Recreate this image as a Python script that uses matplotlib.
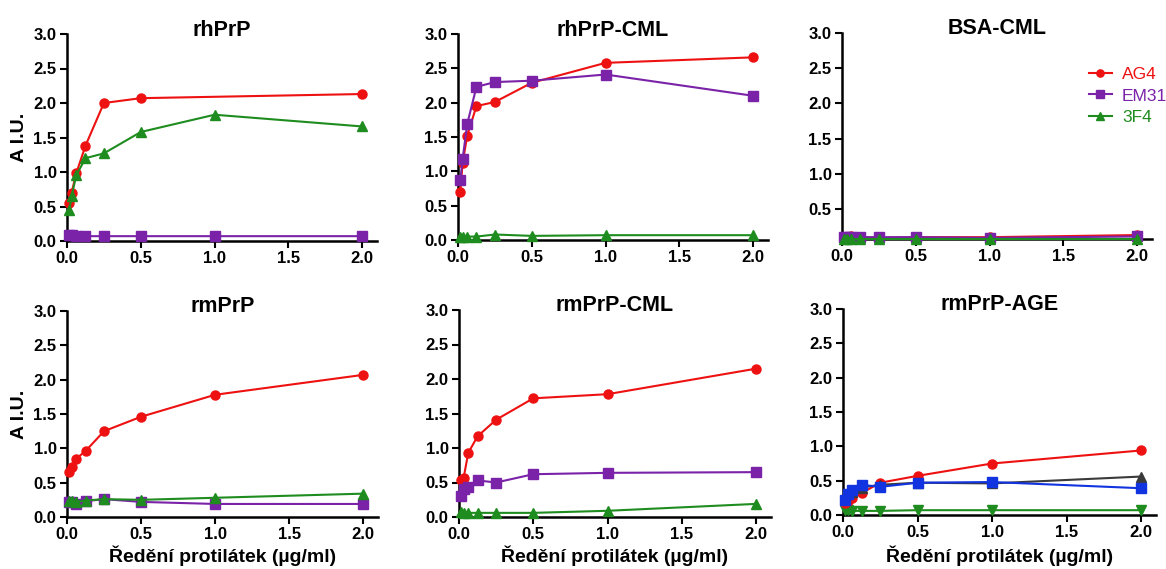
import numpy as np
import matplotlib
matplotlib.use('Agg')
import matplotlib.pyplot as plt

plt.rcParams['font.family'] = ['Liberation Sans', 'DejaVu Sans']

# antibody concentration (ug/ml)
conc = [0.0156, 0.03125, 0.0625, 0.125, 0.25, 0.5, 1.0, 2.0]

titles = ['rhPrP', 'rhPrP-CML', 'BSA-CML', 'rmPrP', 'rmPrP-CML', 'rmPrP-AGE']
series_names = ['AG4', 'EM31', '3F4']

# rhPrP
rhPrP_AG4 = [0.55, 0.70, 0.98, 1.38, 2.00, 2.07, np.nan, 2.13]
rhPrP_EM31 = [0.08, 0.08, 0.07, 0.07, 0.07, 0.07, 0.07, 0.07]
rhPrP_3F4 = [0.45, 0.65, 0.95, 1.20, 1.27, 1.58, 1.83, 1.66]
# rhPrP-CML
rhCML_AG4 = [0.70, 1.12, 1.52, 1.95, 2.01, 2.29, 2.58, 2.66]
rhCML_EM31 = [0.87, 1.18, 1.69, 2.23, 2.30, 2.32, 2.41, 2.10]
rhCML_3F4 = [0.05, 0.05, 0.05, 0.05, 0.08, 0.06, 0.07, 0.07]
# BSA-CML
bsa_AG4 = [0.10, 0.10, 0.11, 0.10, 0.09, 0.10, 0.10, 0.13]
bsa_EM31 = [0.10, 0.10, 0.10, 0.10, 0.10, 0.10, 0.09, 0.11]
bsa_3F4 = [0.08, 0.08, 0.08, 0.08, 0.08, 0.08, 0.08, 0.08]
# rmPrP
rmPrP_AG4 = [0.65, 0.73, 0.85, 0.96, 1.25, 1.46, 1.78, 2.07]
rmPrP_EM31 = [0.22, 0.22, 0.19, 0.23, 0.26, 0.22, 0.19, 0.19]
rmPrP_3F4 = [0.24, 0.24, 0.22, 0.24, 0.26, 0.25, 0.28, 0.34]
# rmPrP-CML
rmCML_AG4 = [0.54, 0.57, 0.93, 1.17, 1.41, 1.72, 1.78, 2.15]
rmCML_EM31 = [0.30, 0.40, 0.43, 0.53, 0.50, 0.62, 0.64, 0.65]
rmCML_3F4 = [0.07, 0.06, 0.06, 0.06, 0.06, 0.06, 0.09, 0.19]
# rmPrP-AGE (four series)
age_red = [0.18, 0.20, 0.25, 0.32, 0.47, 0.57, 0.75, 0.94]
age_blue = [0.22, 0.30, 0.36, 0.44, 0.41, 0.47, 0.48, 0.39]
age_gray = [0.25, 0.30, 0.34, 0.40, 0.44, 0.47, 0.46, 0.56]
age_green = [0.07, 0.07, 0.06, 0.06, 0.06, 0.07, 0.07, 0.07]

RED = '#EE1111'
PURPLE = '#7A22A8'
GREEN = '#1E8C1E'
BLUE = '#1133E0'
GRAY = '#3A3A3A'

W, H = 1166, 569
fig = plt.figure(figsize=(W / 100, H / 100), dpi=100)

# axes boxes in pixels: left, right, top, bottom
boxes = [
    (67, 377, 34, 241),
    (458, 768, 34, 240),
    (842, 1152, 33, 239),
    (67, 378, 311, 517),
    (459, 771, 310, 517),
    (843, 1156, 309, 515),
]

panel_data = [
    [(rhPrP_AG4, RED, 'o'), (rhPrP_EM31, PURPLE, 's'), (rhPrP_3F4, GREEN, '^')],
    [(rhCML_AG4, RED, 'o'), (rhCML_EM31, PURPLE, 's'), (rhCML_3F4, GREEN, '^')],
    [(bsa_AG4, RED, 'o'), (bsa_EM31, PURPLE, 's'), (bsa_3F4, GREEN, '^')],
    [(rmPrP_AG4, RED, 'o'), (rmPrP_EM31, PURPLE, 's'), (rmPrP_3F4, GREEN, '^')],
    [(rmCML_AG4, RED, 'o'), (rmCML_EM31, PURPLE, 's'), (rmCML_3F4, GREEN, '^')],
    [(age_green, GREEN, 'v'), (age_red, RED, 'o'), (age_gray, GRAY, '^'), (age_blue, BLUE, 's')],
]

x_arr = np.array(conc)
axes = []
for i, (l, r, t, b) in enumerate(boxes):
    ax = fig.add_axes([l / W, (H - b) / H, (r - l) / W, (b - t) / H])
    axes.append(ax)
    for j, (vals, col, mk) in enumerate(panel_data[i]):
        v = np.array(vals, dtype=float)
        m = ~np.isnan(v)
        lab = series_names[j] if i == 2 else None
        ax.plot(x_arr[m], v[m], color=col, marker=mk, markersize=6.5,
                linewidth=1.5, clip_on=False, label=lab, zorder=3)
    ax.set_xlim(0, 2.1)
    if i == 2:
        ax.set_ylim(0.074, 3.0)
        ax.set_yticks([0.5, 1.0, 1.5, 2.0, 2.5, 3.0])
    else:
        ax.set_ylim(0, 3.0)
        ax.set_yticks([0.0, 0.5, 1.0, 1.5, 2.0, 2.5, 3.0])
    ax.set_xticks([0.0, 0.5, 1.0, 1.5, 2.0])
    ax.set_xticklabels(['0.0', '0.5', '1.0', '1.5', '2.0'])
    ax.set_yticklabels([f'{v:.1f}' for v in ax.get_yticks()])
    for s in ['top', 'right']:
        ax.spines[s].set_visible(False)
    for s in ['left', 'bottom']:
        ax.spines[s].set_linewidth(1.8)
    ax.tick_params(direction='out', length=5, width=1.5, labelsize=12, pad=2.5)
    for lbl in ax.get_xticklabels() + ax.get_yticklabels():
        lbl.set_fontweight('bold')
    ax.patch.set_alpha(0)
    # title
    ax.text(0.5, 1.0 + 4 / (b - t), titles[i], transform=ax.transAxes,
            ha='center', va='center', fontsize=15.5, fontweight='bold')

# y labels
for (l, r, t, b) in [boxes[0], boxes[3]]:
    fig.text(20 / W, (H - (t + b) / 2) / H, 'A I.U.', rotation=90,
             ha='center', va='center', fontsize=14, fontweight='bold')

# x labels
for (l, r, t, b) in boxes[3:]:
    fig.text(((l + r) / 2) / W, (H - 556) / H, 'Ředění protilátek (µg/ml)',
             ha='center', va='center', fontsize=14, fontweight='bold')

leg = axes[2].legend(loc='upper left', bbox_to_anchor=(1089 / W, (H - 67) / H),
                     bbox_transform=fig.transFigure, frameon=False,
                     fontsize=12.5, labelcolor='linecolor', handlelength=1.3,
                     handletextpad=0.6, labelspacing=0.36, borderpad=0,
                     borderaxespad=0, markerscale=0.8)

fig.savefig('out.png', dpi=100)
